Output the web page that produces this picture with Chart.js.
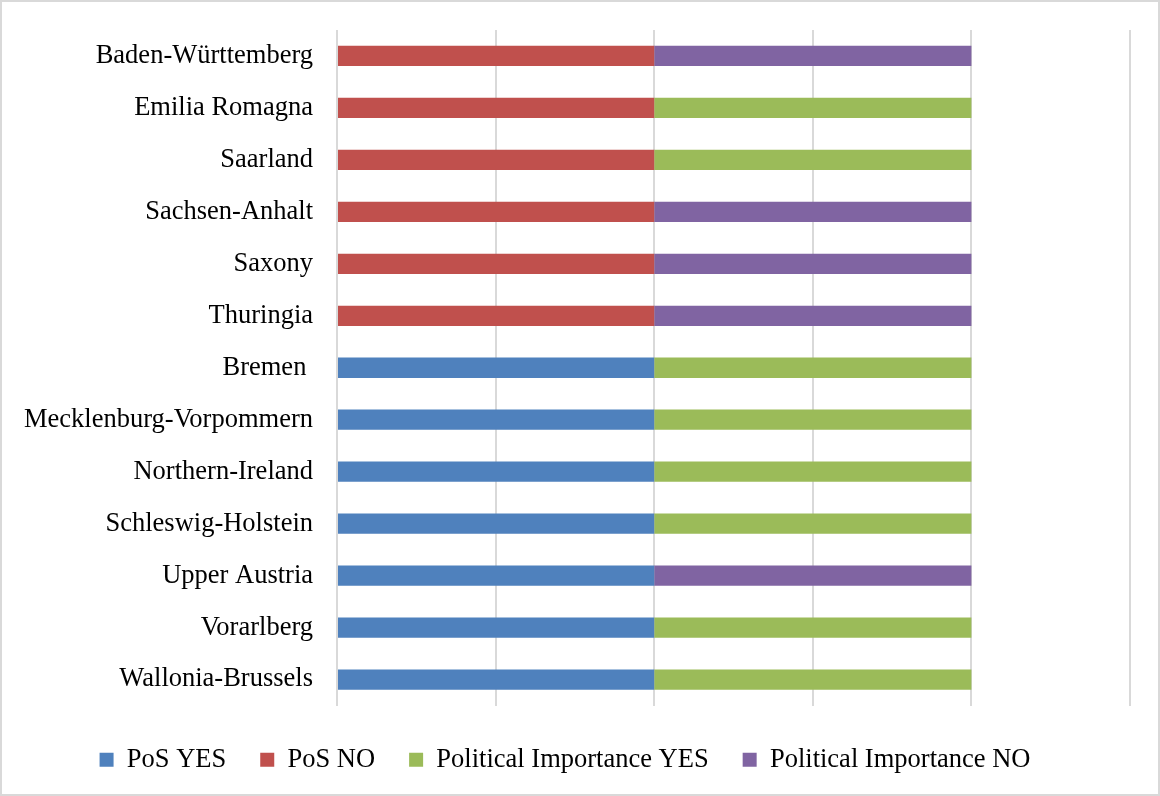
<!DOCTYPE html>
<html>
<head>
<meta charset="utf-8">
<title>PoS and Political Importance by region</title>
<script src="https://cdn.jsdelivr.net/npm/chart.js@4/dist/chart.umd.min.js"></script>
<style>
  html, body { margin: 0; padding: 0; background: #fff; }
  #chartContainer { position: relative; width: 1160px; height: 796px; }
</style>
</head>
<body>
<div id="chartContainer">
  <canvas id="regionChart"></canvas>
</div>
<script>
// Regions, top to bottom
const regions = [
  'Baden-Württemberg',
  'Emilia Romagna',
  'Saarland',
  'Sachsen-Anhalt',
  'Saxony',
  'Thuringia',
  'Bremen ',
  'Mecklenburg-Vorpommern',
  'Northern-Ireland',
  'Schleswig-Holstein',
  'Upper Austria',
  'Vorarlberg',
  'Wallonia-Brussels'
];

// 1 = applies, 0 = does not
const posYes       = [0, 0, 0, 0, 0, 0, 1, 1, 1, 1, 1, 1, 1];
const posNo        = [1, 1, 1, 1, 1, 1, 0, 0, 0, 0, 0, 0, 0];
const politicalYes = [0, 1, 1, 0, 0, 0, 1, 1, 1, 1, 0, 1, 1];
const politicalNo  = [1, 0, 0, 1, 1, 1, 0, 0, 0, 0, 1, 0, 0];

const seriesNames = ['PoS YES', 'PoS NO', 'Political Importance YES', 'Political Importance NO'];
const seriesColors = ['#4F81BD', '#C0504D', '#9BBB59', '#8064A2'];

const fontFamily = '"Liberation Serif", "Times New Roman", serif';
const fontSize = 26.5;

// zero entries become gaps so no empty bars get drawn
const toBars = arr => arr.map(v => (v === 0 ? null : v));

const datasets = [posYes, posNo, politicalYes, politicalNo].map((values, i) => ({
  label: seriesNames[i],
  data: toBars(values),
  backgroundColor: seriesColors[i],
  borderWidth: 0,
  barPercentage: 0.39,
  categoryPercentage: 1.0,
  stack: 'all'
}));

// light frame round the whole chart
const framePlugin = {
  id: 'frame',
  afterDraw(chart) {
    const ctx = chart.ctx;
    ctx.save();
    ctx.strokeStyle = '#d9d9d9';
    ctx.lineWidth = 2;
    ctx.strokeRect(1, 1, chart.width - 2, chart.height - 2);
    ctx.restore();
  }
};

const ctx = document.getElementById('regionChart').getContext('2d');
new Chart(ctx, {
  type: 'bar',
  data: { labels: regions, datasets: datasets },
  options: {
    indexAxis: 'y',
    responsive: true,
    maintainAspectRatio: false,
    animation: false,
    layout: { padding: { top: 30, right: 30, left: 0, bottom: 13 } },
    plugins: {
      legend: {
        position: 'bottom',
        labels: {
          font: { family: fontFamily, size: fontSize },
          color: '#000',
          boxWidth: 14,
          boxHeight: 14,
          padding: 34
        }
      },
      tooltip: { enabled: false }
    },
    scales: {
      x: {
        stacked: true,
        min: 0,
        max: 2.5,
        afterFit: scale => { scale.height += 7; },
        ticks: { display: false, stepSize: 0.5 },
        grid: { color: '#d9d9d9', lineWidth: 2, drawTicks: false },
        border: { display: false }
      },
      y: {
        stacked: true,
        afterFit: scale => {
          scale.width = 337;
          // labels sit mid-category, so no extra room above/below the plot
          scale.paddingTop = 0;
          scale.paddingBottom = 0;
        },
        ticks: {
          font: { family: fontFamily, size: fontSize },
          color: '#000',
          padding: 24
        },
        grid: { display: false, drawTicks: false },
        border: { display: false }
      }
    }
  },
  plugins: [framePlugin]
});
</script>
</body>
</html>
